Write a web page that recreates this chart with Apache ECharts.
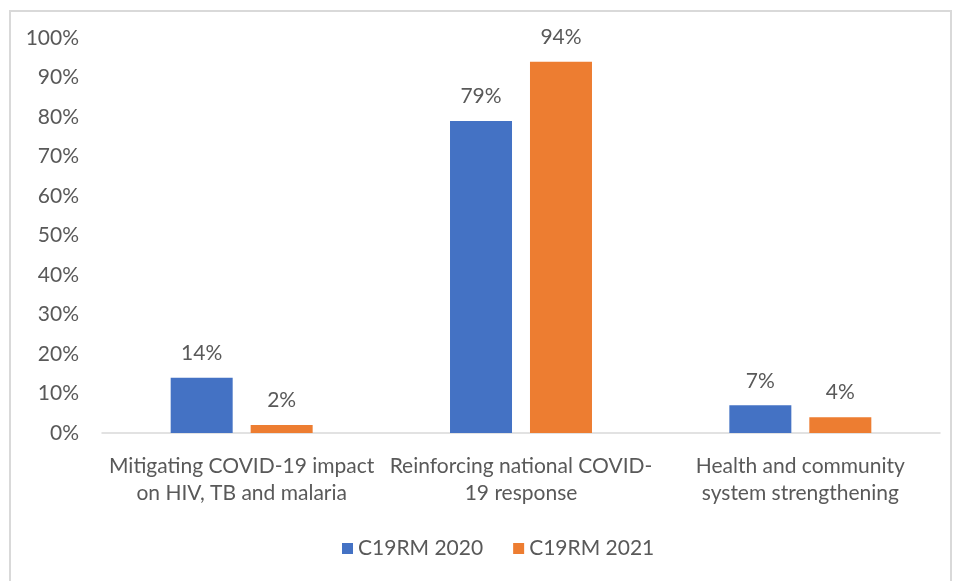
<!DOCTYPE html>
<html>
<head>
<meta charset="utf-8">
<script src="https://cdn.jsdelivr.net/npm/echarts@6/dist/echarts.min.js"></script>
<style>
  html, body { margin: 0; padding: 0; background: #fff; }
  #frame {
    position: absolute; left: 9px; top: 10px; width: 943px; height: 600px;
    border: 2px solid #d9d9d9; box-sizing: border-box;
  }
  #chart { position: absolute; left: 0; top: 0; width: 959px; height: 581px; }
</style>
</head>
<body>
<div id="frame"></div>
<div id="chart"></div>
<script>
// categories
const categories = [
  "Mitigating COVID-19 impact\non HIV, TB and malaria",
  "Reinforcing national COVID-\n19 response",
  "Health and community\nsystem strengthening"
];
// series values (%)
const values2020 = [14, 79, 7];
const values2021 = [2, 94, 4];
const seriesNames = ["C19RM 2020", "C19RM 2021"];
const colorList = ["#4472c4", "#ed7d31"];

const font = "Lato, 'Open Sans', sans-serif";
const textColor = "#595959";
const fontSize = 21;

const chart = echarts.init(document.getElementById("chart"));

const makeSeries = (name, data, color) => ({
  name: name,
  type: "bar",
  data: data,
  barWidth: 62,
  barGap: "29%",
  itemStyle: { color: color },
  label: {
    show: true,
    position: "top",
    distance: 14,
    formatter: p => p.value + "%",
    color: textColor,
    fontFamily: font,
    fontSize: fontSize
  }
});

chart.setOption({
  animation: false,
  grid: { left: 102, right: 19, top: 38, bottom: 148 },
  legend: {
    bottom: 17,
    left: 337,
    itemWidth: 11,
    itemHeight: 11,
    itemGap: 30,
    icon: "rect",
    textStyle: { color: textColor, fontFamily: font, fontSize: fontSize },
    data: seriesNames
  },
  xAxis: {
    type: "category",
    data: categories,
    axisLine: { lineStyle: { color: "#d9d9d9", width: 1.5 } },
    axisTick: { show: false },
    axisLabel: {
      color: textColor,
      fontFamily: font,
      fontSize: fontSize,
      lineHeight: 27,
      margin: 20,
      interval: 0
    }
  },
  yAxis: {
    type: "value",
    min: 0,
    max: 100,
    interval: 10,
    splitLine: { show: false },
    axisLine: { show: false },
    axisTick: { show: false },
    axisLabel: {
      formatter: v => v + "%",
      color: textColor,
      fontFamily: font,
      fontSize: fontSize,
      margin: 23
    }
  },
  series: [
    makeSeries(seriesNames[0], values2020, colorList[0]),
    makeSeries(seriesNames[1], values2021, colorList[1])
  ]
});
</script>
</body>
</html>
